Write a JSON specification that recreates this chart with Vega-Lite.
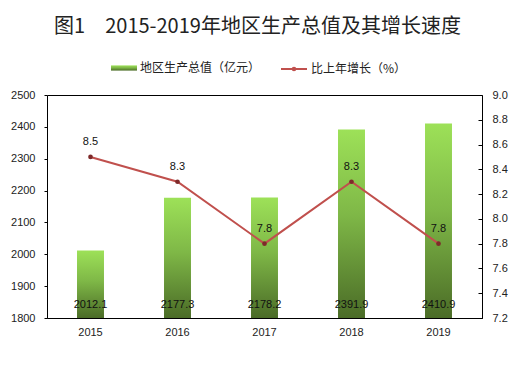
{
  "$schema": "https://vega.github.io/schema/vega-lite/v6.json",
  "width": 435,
  "height": 223,
  "autosize": {"type": "none"},
  "padding": {"left": 47, "top": 95, "right": 34, "bottom": 50},
  "background": "#ffffff",
  "config": {
    "view": {"stroke": "#000000", "strokeWidth": 1},
    "axis": {"labelFont": "Liberation Sans", "labelFontSize": 11, "labelColor": "#222222", "grid": false, "domainColor": "#000000", "tickColor": "#000000"},
    "legend": {"labelFont": "Noto Sans CJK SC", "labelFontSize": 12, "labelColor": "#222222", "padding": 0}
  },
  "title": {
    "text": "图1　2015-2019年地区生产总值及其增长速度",
    "font": "Noto Sans CJK SC",
    "fontSize": 20,
    "fontWeight": "normal",
    "color": "#222222",
    "anchor": "middle",
    "dx": -7,
    "offset": 18
  },
  "data": {
    "values": [
      {"year": "2015", "gdp": 2012.1, "growth": 8.5},
      {"year": "2016", "gdp": 2177.3, "growth": 8.3},
      {"year": "2017", "gdp": 2178.2, "growth": 7.8},
      {"year": "2018", "gdp": 2391.9, "growth": 8.3},
      {"year": "2019", "gdp": 2410.9, "growth": 7.8}
    ]
  },
  "encoding": {
    "x": {
      "field": "year",
      "type": "ordinal",
      "scale": {"paddingInner": 0.69, "paddingOuter": 0.345},
      "axis": {"title": null, "labelAngle": 0, "ticks": false, "labelPadding": 8, "domain": true}
    }
  },
  "layer": [
    {
      "encoding": {
        "y": {
          "field": "gdp",
          "type": "quantitative",
          "scale": {"domain": [1800, 2500], "nice": false, "zero": false},
          "axis": {"title": null, "values": [1800, 1900, 2000, 2100, 2200, 2300, 2400, 2500], "format": "d", "domain": false, "tickSize": 3, "labelPadding": 9}
        }
      },
      "layer": [
        {
          "mark": {
            "type": "bar",
            "color": {"gradient": "linear", "x1": 0, "y1": 0, "x2": 0, "y2": 1,
              "stops": [{"offset": 0, "color": "#9DE158"}, {"offset": 0.45, "color": "#7FB847"}, {"offset": 1, "color": "#4B6C27"}]}
          },
          "encoding": {
            "y2": {"datum": 1800},
            "opacity": {
              "datum": "地区生产总值（亿元）",
              "type": "nominal",
              "scale": {"range": [1]},
              "legend": {
                "title": null,
                "orient": "none",
                "legendX": 64,
                "legendY": -40,
                "symbolType": "M-1,-0.2H1V0.2H-1Z",
                "symbolSize": 676,
                "symbolStrokeWidth": 0,
                "symbolFillColor": "#79B544",
                "labelOffset": 3
              }
            }
          }
        },
        {
          "mark": {"type": "text", "font": "Liberation Sans", "fontSize": 11, "color": "#111111", "baseline": "middle", "dy": -13},
          "encoding": {
            "y": {"datum": 1800},
            "text": {"field": "gdp", "type": "quantitative", "format": ".1f"}
          }
        }
      ]
    },
    {
      "encoding": {
        "y": {
          "field": "growth",
          "type": "quantitative",
          "scale": {"domain": [7.2, 9.0], "nice": false, "zero": false},
          "axis": {"title": null, "orient": "right", "values": [7.2, 7.4, 7.6, 7.8, 8.0, 8.2, 8.4, 8.6, 8.8, 9.0], "format": ".1f", "domain": false, "tickSize": -4, "labelPadding": 14}
        }
      },
      "layer": [
        {
          "mark": {"type": "line", "strokeWidth": 2},
          "encoding": {
            "stroke": {
              "datum": "比上年增长（%）",
              "scale": {"range": ["#C0504D"]},
              "legend": {
                "title": null,
                "orient": "none",
                "legendX": 233,
                "legendY": -40,
                "symbolType": "M-1,0H1M0.1,0A0.1,0.1 0 1 1 -0.1,0A0.1,0.1 0 1 1 0.1,0",
                "symbolSize": 676,
                "symbolStrokeWidth": 2,
                "labelOffset": 3
              }
            }
          }
        },
        {
          "mark": {"type": "point", "filled": true, "color": "#7E2A2A", "size": 22, "opacity": 1}
        },
        {
          "mark": {"type": "text", "font": "Liberation Sans", "fontSize": 11, "color": "#111111", "baseline": "middle", "dy": -15},
          "encoding": {
            "text": {"field": "growth", "type": "quantitative", "format": ".1f"}
          }
        }
      ]
    }
  ],
  "resolve": {"scale": {"y": "independent", "opacity": "independent", "stroke": "independent"}}
}
